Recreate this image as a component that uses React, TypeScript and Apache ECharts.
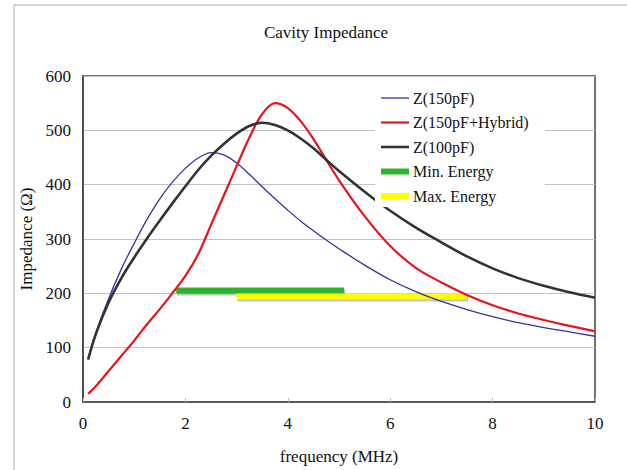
import React, { useEffect, useRef } from "react";
import * as echarts from "echarts";

const freq = [0.1, 0.25, 0.5, 0.75, 1, 1.25, 1.5, 1.75, 2, 2.25, 2.5, 2.75, 3, 3.25, 3.5, 3.75, 4, 4.25, 4.5, 4.75, 5, 5.5, 6, 6.5, 7, 7.5, 8, 8.5, 9, 9.5, 10];
const z150 = [80, 127, 190, 245, 292, 336, 374, 405, 430, 449, 459, 455, 440, 419, 396, 374, 353, 333, 315, 298, 282, 252, 225, 203, 185, 170, 157, 146, 137, 129, 121];
const z150Hybrid = [15, 29, 57, 85, 113, 143, 171, 201, 232, 272, 326, 380, 434, 487, 530, 550, 541, 517, 484, 446, 408, 342, 287, 247, 220, 197, 178, 163, 151, 140, 130];
const z100 = [78, 125, 183, 228, 266, 301, 334, 366, 397, 427, 453, 475, 494, 508, 514, 510, 500, 485, 467, 446, 425, 387, 352, 321, 294, 268, 246, 228, 214, 202, 192];
// [from MHz, to MHz, impedance level]
const minEnergy = [1.82, 5.1, 205];
const maxEnergy = [3.0, 7.5, 194];
const seriesNames = ["Z(150pF)", "Z(150pF+Hybrid)", "Z(100pF)", "Min. Energy", "Max. Energy"];

const serif = "Liberation Serif";
const colors = ["#3333a6", "#e8141c", "#333333", "#2cb52c", "#ffff00"];
const widths = [1.3, 2.2, 2.6, 6, 6];
const legendCenters = [98, 122.5, 147, 171.5, 196];

export default function App() {
  const ref = useRef<HTMLDivElement>(null);
  useEffect(() => {
    if (!ref.current) return;
    const chart = echarts.init(ref.current, undefined, { renderer: "svg" });
    const pairs = (ys: number[]) => freq.map((f, i) => [f, ys[i]]);
    const barRender = (color: string) => (params: any, api: any) => {
      const a = api.coord([api.value(0), api.value(2)]);
      const b = api.coord([api.value(1), api.value(2)]);
      const w = b[0] - a[0];
      return {
        type: "group",
        children: [
          { type: "rect", shape: { x: a[0] + 1, y: a[1] - 1, width: w, height: 6 }, style: { fill: "rgba(120,120,120,0.45)" } },
          { type: "rect", shape: { x: a[0], y: a[1] - 3, width: w, height: 6 }, style: { fill: color } },
        ],
      };
    };
    const legends = seriesNames.map((name, i) => ({
      orient: "vertical",
      left: 381,
      top: legendCenters[i] - 9,
      padding: 0,
      itemWidth: 28,
      itemHeight: widths[i],
      data: [{ name, icon: "rect", itemStyle: { color: colors[i] } }],
      textStyle: { fontFamily: serif, fontSize: 16, color: "#111", lineHeight: 18, padding: [0, 0, 0, -1] },
      z: 10,
    }));
    chart.setOption({
      animation: false,
      backgroundColor: "#fff",
      graphic: [
        {
          type: "rect",
          shape: { x: 14, y: 5, width: 700, height: 600 },
          style: { fill: "none", stroke: "#c8c8c8", lineWidth: 1.5 },
          z: -10,
        },
        {
          type: "rect",
          shape: { x: 375, y: 86, width: 170, height: 121 },
          style: { fill: "#fff" },
          z: 5,
        },
      ],
      title: {
        text: "Cavity Impedance",
        left: 321,
        textAlign: "center",
        top: 19,
        textStyle: { fontFamily: serif, fontSize: 17, fontWeight: "normal", color: "#111" },
      },
      legend: legends,
      grid: {
        left: 83,
        top: 76,
        right: 32,
        bottom: 67,
        show: true,
        borderColor: "#444",
        borderWidth: 1.5,
      },
      xAxis: {
        type: "value",
        min: 0,
        max: 10,
        interval: 2,
        name: "frequency (MHz)",
        nameLocation: "middle",
        nameGap: 46,
        nameTextStyle: { fontFamily: serif, fontSize: 17, color: "#111" },
        axisLine: { show: true, lineStyle: { color: "#444", width: 1.5 } },
        axisTick: { show: true, inside: true, length: 4, lineStyle: { color: "#bbb" } },
        axisLabel: { fontFamily: serif, fontSize: 17, color: "#111", margin: 13 },
        splitLine: { show: false },
      },
      yAxis: {
        type: "value",
        min: 0,
        max: 600,
        interval: 100,
        name: "Impedance (Ω)",
        nameLocation: "middle",
        nameGap: 46,
        nameRotate: 90,
        nameTextStyle: { fontFamily: serif, fontSize: 17, color: "#111" },
        axisLine: { show: true, lineStyle: { color: "#444", width: 1.5 } },
        axisTick: { show: false },
        axisLabel: { fontFamily: serif, fontSize: 17, color: "#111", margin: 12 },
        splitLine: { show: true, lineStyle: { color: "#c4c4c4", width: 1 } },
      },
      series: [
        {
          name: seriesNames[3],
          type: "custom",
          data: [minEnergy],
          encode: { x: [0, 1], y: 2 },
          renderItem: barRender(colors[3]),
          itemStyle: { color: colors[3] },
          z: 1,
        },
        {
          name: seriesNames[4],
          type: "custom",
          data: [maxEnergy],
          encode: { x: [0, 1], y: 2 },
          renderItem: barRender(colors[4]),
          itemStyle: { color: colors[4] },
          z: 1,
        },
        {
          name: seriesNames[0],
          type: "line",
          data: pairs(z150),
          symbol: "none",
          smooth: 0.35,
          lineStyle: { color: colors[0], width: widths[0] },
          itemStyle: { color: colors[0] },
          z: 3,
        },
        {
          name: seriesNames[1],
          type: "line",
          data: pairs(z150Hybrid),
          symbol: "none",
          smooth: 0.35,
          lineStyle: { color: colors[1], width: widths[1] },
          itemStyle: { color: colors[1] },
          z: 3,
        },
        {
          name: seriesNames[2],
          type: "line",
          data: pairs(z100),
          symbol: "none",
          smooth: 0.35,
          lineStyle: { color: colors[2], width: widths[2] },
          itemStyle: { color: colors[2] },
          z: 3,
        },
      ],
    });
    return () => chart.dispose();
  }, []);
  return (
    <div
      ref={ref}
      style={{ position: "fixed", left: 0, top: 0, width: 627, height: 470, background: "#fff" }}
    />
  );
}
